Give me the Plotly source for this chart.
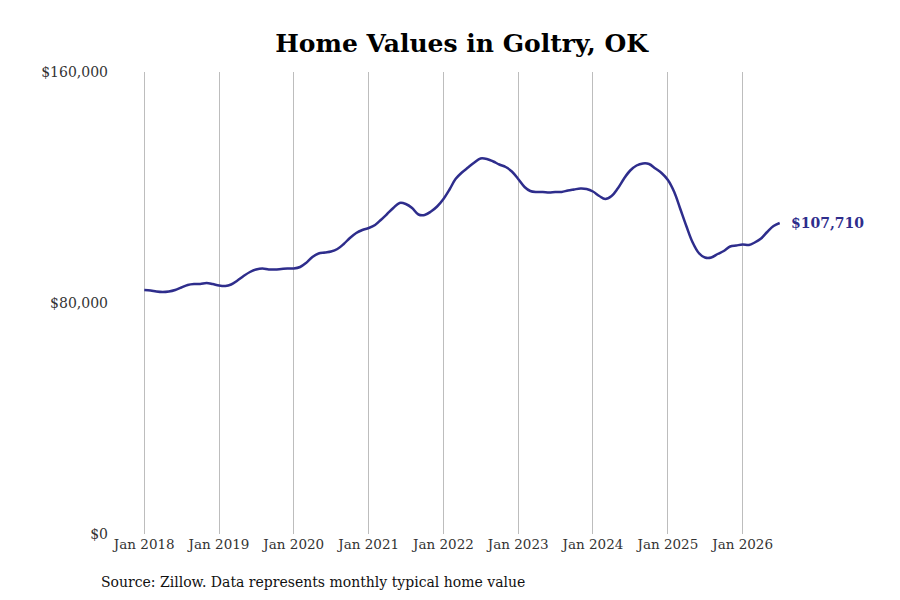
import pandas as pd
import plotly.graph_objects as go

# monthly typical home value, Jan 2018 - Jul 2026
months = pd.date_range("2018-01-01", "2026-07-01", freq="MS")
values = [
    84502, 84329, 83983, 83809, 83983, 84502, 85368, 86234, 86580, 86580, 86926, 86580,
    86061, 85887, 86407, 87792, 89351, 90736, 91602, 91948, 91602, 91602, 91775, 91948,
    91948, 92467, 93853, 95931, 97143, 97489, 97835, 98701, 100433, 102511, 104242, 105281,
    105974, 107013, 108744, 110822, 112900, 114632, 114286, 112900, 110649, 110476, 111688, 113420,
    116017, 119480, 122944, 125195, 126926, 128658, 130043, 129870, 129004, 127966, 127100, 125541,
    122944, 120173, 118788, 118441, 118441, 118268, 118441, 118441, 118961, 119307, 119653, 119480,
    118615, 117056, 116017, 117056, 119653, 123117, 125887, 127619, 128311, 128138, 126580, 125021,
    122597, 118441, 112900, 106667, 101125, 97316, 95757, 95757, 96970, 98009, 99567, 99913,
    100260, 100086, 100952, 102338, 104589, 106667, 107710,
]
year_ticks = pd.date_range("2018-01-01", "2026-01-01", freq="YS")
year_labels = [f"Jan {d.year}" for d in year_ticks]
y_ticks = [0, 80000, 160000]
y_labels = ["$0", "$80,000", "$160,000"]

line_color = "#2e2d8c"
serif = "DejaVu Serif"

fig = go.Figure(go.Scatter(
    x=months, y=values, mode="lines",
    line=dict(color=line_color, width=2.5, shape="spline"),
    hoverinfo="skip",
))

fig.add_annotation(
    x=months[-1], y=values[-1], text=f"<b>${values[-1]:,}</b>",
    showarrow=False, xanchor="left", xshift=9,
    font=dict(family=serif, size=14, color=line_color),
)
fig.add_annotation(
    x=0, y=0, xref="paper", yref="paper", yshift=-48, xshift=-16,
    text="Source: Zillow. Data represents monthly typical home value",
    showarrow=False, xanchor="left", yanchor="middle",
    font=dict(family=serif, size=14, color="#111"),
)

fig.update_layout(
    width=900, height=600,
    margin=dict(l=107, r=38, t=64, b=74),
    paper_bgcolor="white", plot_bgcolor="white",
    showlegend=False,
    title=dict(text="<b>Home Values in Goltry, OK</b>", x=0.504, y=0.9417,
               xanchor="center", yanchor="middle",
               font=dict(family=serif, size=25, color="black")),
    xaxis=dict(range=["2017-08-11", "2027-09-15"], tickvals=year_ticks, ticktext=year_labels,
               showgrid=True, gridcolor="#bdbdbd", gridwidth=1, zeroline=False,
               showline=False, ticks="", tickfont=dict(family=serif, size=13.5, color="#333")),
    yaxis=dict(range=[0, 160000], tickvals=y_ticks, ticktext=y_labels,
               showgrid=False, zeroline=False, showline=False, ticks="",
               ticklabelstandoff=6,
               tickfont=dict(family=serif, size=14, color="#333")),
)

fig.write_html("out.html")
